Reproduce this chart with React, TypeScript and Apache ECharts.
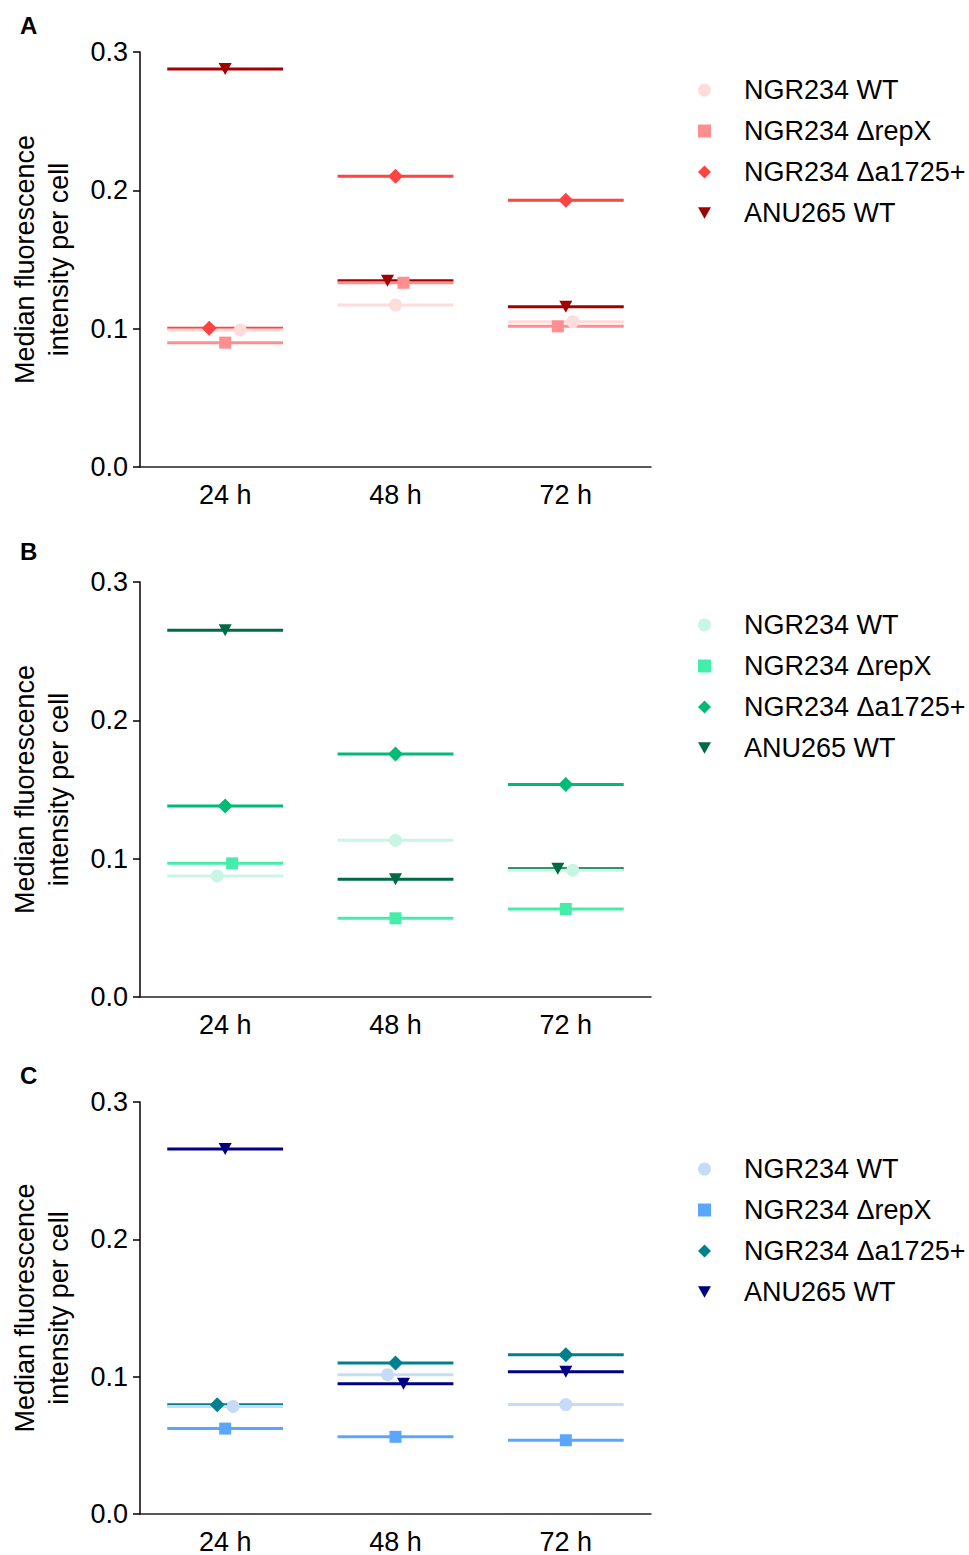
import React, { useEffect, useRef } from "react";
import * as echarts from "echarts";

// Categories and groups
const timepoints = ["24 h", "48 h", "72 h"];
const strains = ["NGR234 WT", "NGR234 \u0394repX", "NGR234 \u0394a1725+", "ANU265 WT"];
const panelLetters = ["A", "B", "C"];
const yAxisName = "Median fluorescence\nintensity per cell";

// Median fluorescence per strain (24 h, 48 h, 72 h) — panel A
const panelA_wt = [0.099, 0.1171, 0.105];
const panelA_repX = [0.0899, 0.1332, 0.1017];
const panelA_a1725 = [0.1003, 0.2101, 0.1928];
const panelA_anu = [0.2877, 0.1347, 0.1159];

// Panel B
const panelB_wt = [0.0875, 0.1133, 0.0916];
const panelB_repX = [0.0966, 0.0569, 0.0636];
const panelB_a1725 = [0.1381, 0.1757, 0.1537];
const panelB_anu = [0.2651, 0.0851, 0.0928];

// Panel C
const panelC_wt = [0.0783, 0.1014, 0.0797];
const panelC_repX = [0.0622, 0.0562, 0.0537];
const panelC_a1725 = [0.0795, 0.1099, 0.1159];
const panelC_anu = [0.2658, 0.0949, 0.1036];

const panelValues = [
  [panelA_wt, panelA_repX, panelA_a1725, panelA_anu],
  [panelB_wt, panelB_repX, panelB_a1725, panelB_anu],
  [panelC_wt, panelC_repX, panelC_a1725, panelC_anu],
];

// Horizontal dodge of the points (px) so overlapping markers stay visible
const panelDodge = [
  [[15, 0, 7], [0, 8, -8], [-16, 0, 0], [0, -8, 0]],
  [[-8, 0, 7], [7, 0, 0], [0, 0, 0], [0, 0, -8]],
  [[8, -8, 0], [0, 0, 0], [-8, 0, 0], [0, 8, 0]],
];

const panelColors = [
  ["#FFDCDC", "#FF8E8E", "#FF4242", "#A00000"],
  ["#C9F5E4", "#44EEAA", "#00BB76", "#006A44"],
  ["#C6DCF6", "#5AA6FF", "#00808F", "#000082"],
];

const TRI_DOWN = "path://M0,0L10,0L5,9Z";
const strainSymbols = ["circle", "rect", "diamond", TRI_DOWN];
const strainSymbolSizes: any[] = [13, 12, 15, [13, 12]];

const FONT = "Liberation Sans, Arial, sans-serif";
const GRID_TOPS = [52, 582, 1102];
const GRID_LEFT = 137;
const GRID_W = 514;
const GRID_H = 415;
const LEGEND_TOPS = [76, 611, 1155];
const LETTER_Y = [25, 551, 1075];

function buildOption() {
  const grid: any[] = [];
  const xAxis: any[] = [];
  const yAxis: any[] = [];
  const series: any[] = [];
  const legend: any[] = [];
  const graphic: any[] = [];

  panelValues.forEach((values, p) => {
    const key = panelLetters[p];
    grid.push({ left: GRID_LEFT, top: GRID_TOPS[p], width: GRID_W, height: GRID_H });
    xAxis.push({
      type: "category",
      gridIndex: p,
      data: timepoints,
      boundaryGap: true,
      axisLine: { lineStyle: { color: "#222", width: 1.5 } },
      axisTick: { alignWithLabel: true, length: 7, lineStyle: { color: "#222", width: 1.5 } },
      axisLabel: { color: "#000", fontSize: 27, fontFamily: FONT, margin: 14 },
      splitLine: { show: false },
    });
    yAxis.push({
      type: "value",
      gridIndex: p,
      min: 0,
      max: 0.3,
      interval: 0.1,
      name: yAxisName,
      nameLocation: "middle",
      nameGap: 64,
      nameTextStyle: { color: "#000", fontSize: 27, fontFamily: FONT, lineHeight: 34 },
      axisLine: { show: true, lineStyle: { color: "#000", width: 1.5 } },
      axisTick: { show: true, length: 7, lineStyle: { color: "#000", width: 1.5 } },
      axisLabel: {
        color: "#000",
        fontSize: 27,
        fontFamily: FONT,
        margin: 12,
        formatter: (v: number) => v.toFixed(1),
      },
      splitLine: { show: false },
    });

    // median lines: ANU265 first so the lighter strains sit on top
    [3, 2, 1, 0].forEach((s) => {
      const color = panelColors[p][s];
      series.push({
        type: "custom",
        name: `${key}|${strains[s]}|median`,
        xAxisIndex: p,
        yAxisIndex: p,
        z: 2,
        data: values[s].map((v, i) => [i, v]),
        renderItem: (params: any, api: any) => {
          const c = api.coord([api.value(0), api.value(1)]);
          const band = api.size([1, 0])[0];
          const half = band * 0.34;
          return {
            type: "line",
            shape: { x1: c[0] - half, y1: c[1], x2: c[0] + half, y2: c[1] },
            style: { stroke: color, lineWidth: 3 },
          };
        },
      });
    });

    strains.forEach((name, s) => {
      series.push({
        type: "scatter",
        name: `${key}|${name}`,
        xAxisIndex: p,
        yAxisIndex: p,
        z: 3,
        symbol: strainSymbols[s],
        symbolSize: strainSymbolSizes[s],
        itemStyle: { color: panelColors[p][s], opacity: 1 },
        data: values[s].map((v, i) => ({
          value: [i, v],
          symbolOffset: [panelDodge[p][s][i], 0],
        })),
      });
    });

    legend.push({
      orient: "vertical",
      left: 698,
      top: LEGEND_TOPS[p],
      padding: 0,
      itemGap: 13,
      itemWidth: 13,
      itemHeight: 13,
      selectedMode: false,
      data: strains.map((n) => `${key}|${n}`),
      formatter: (n: string) => n.split("|")[1],
      textStyle: {
        color: "#000",
        fontSize: 27,
        fontFamily: FONT,
        lineHeight: 28,
        padding: [0, 0, 0, 28],
      },
    });

    graphic.push({
      type: "text",
      left: 20,
      top: LETTER_Y[p] - 12,
      style: {
        text: key,
        fill: "#000",
        font: `bold 24px ${FONT}`,
      },
    });
  });

  return {
    animation: false,
    backgroundColor: "#fff",
    grid,
    xAxis,
    yAxis,
    series,
    legend,
    graphic,
  };
}

export default function App() {
  const ref = useRef<HTMLDivElement>(null);
  useEffect(() => {
    if (!ref.current) return;
    const chart = echarts.init(ref.current, undefined, { renderer: "svg" });
    chart.setOption(buildOption() as any);
    return () => chart.dispose();
  }, []);
  return (
    <div
      ref={ref}
      style={{ position: "absolute", left: 0, top: 0, width: 969, height: 1555 }}
    />
  );
}
